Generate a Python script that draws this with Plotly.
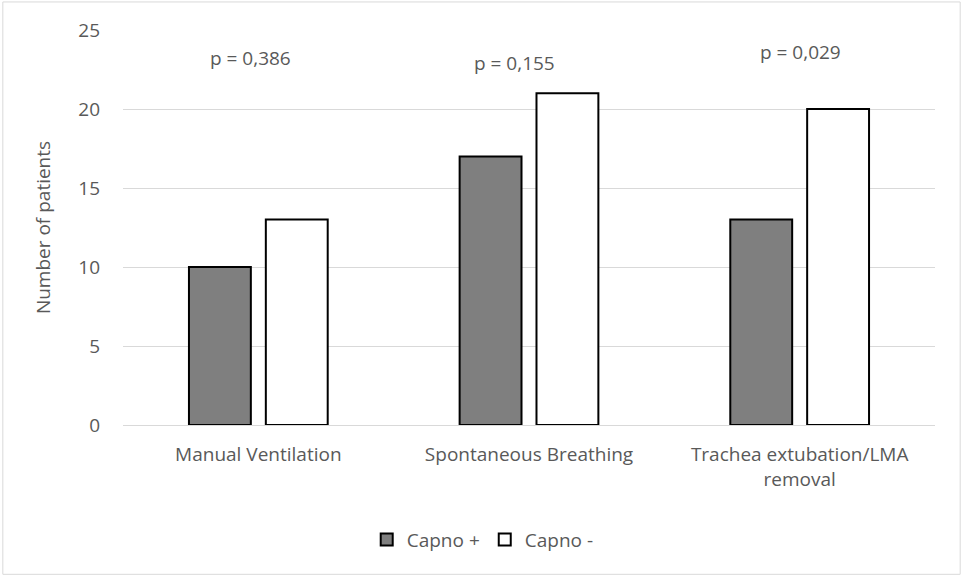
import plotly.graph_objects as go

categories = ["Manual Ventilation", "Spontaneous Breathing", "Trachea extubation/LMA<br>removal"]
capno_pos = [10, 17, 13]
capno_neg = [13, 21, 20]
p_labels = ["p = 0,386", "p = 0,155", "p = 0,029"]
p_y = [23.2, 22.9, 23.6]
p_shift = [-8, -15, 1]

FONT = "Open Sans"
GREY = "#595959"
FS = 19

fig = go.Figure()
fig.add_trace(go.Bar(x=categories, y=capno_pos, name="Capno +",
                     marker=dict(color="#7f7f7f", line=dict(color="black", width=2))))
fig.add_trace(go.Bar(x=categories, y=capno_neg, name="Capno -",
                     marker=dict(color="white", line=dict(color="black", width=2))))

for c, t, y, s in zip(categories, p_labels, p_y, p_shift):
    fig.add_annotation(x=c, y=y, text=t, showarrow=False, xshift=s,
                       font=dict(family=FONT, size=FS, color=GREY))

fig.add_shape(type="rect", xref="paper", yref="paper",
              x0=-0.148, x1=1.031, y0=-0.378, y1=1.071,
              line=dict(color="#d9d9d9", width=1), fillcolor="rgba(0,0,0,0)", layer="below")

fig.update_layout(
    width=963, height=578,
    margin=dict(l=123, r=28, t=30, b=153),
    paper_bgcolor="white", plot_bgcolor="white",
    barmode="group", bargap=0.432, bargroupgap=0.195,
    font=dict(family=FONT, size=FS, color=GREY),
    showlegend=True,
    legend=dict(orientation="h", x=0.443, xanchor="center", y=-0.29, yanchor="middle",
                font=dict(family=FONT, size=FS, color=GREY), itemwidth=30,
                tracegroupgap=0),
    xaxis=dict(showline=True, linecolor="#d9d9d9", linewidth=1, ticks="",
               ticklabelstandoff=12,
               tickfont=dict(family=FONT, size=FS, color=GREY)),
    yaxis=dict(range=[0, 25], dtick=5, showgrid=True, gridcolor="#d9d9d9", gridwidth=1,
               zeroline=True, zerolinecolor="#d9d9d9", zerolinewidth=1,
               ticks="", ticklabelstandoff=22,
               tickfont=dict(family=FONT, size=FS, color=GREY),
               title=dict(text="Number of patients", font=dict(family=FONT, size=FS, color=GREY),
                          standoff=22)),
)

fig.write_html("out.html", config={"displayModeBar": False},
               post_script="document.body.style.margin='0';")
